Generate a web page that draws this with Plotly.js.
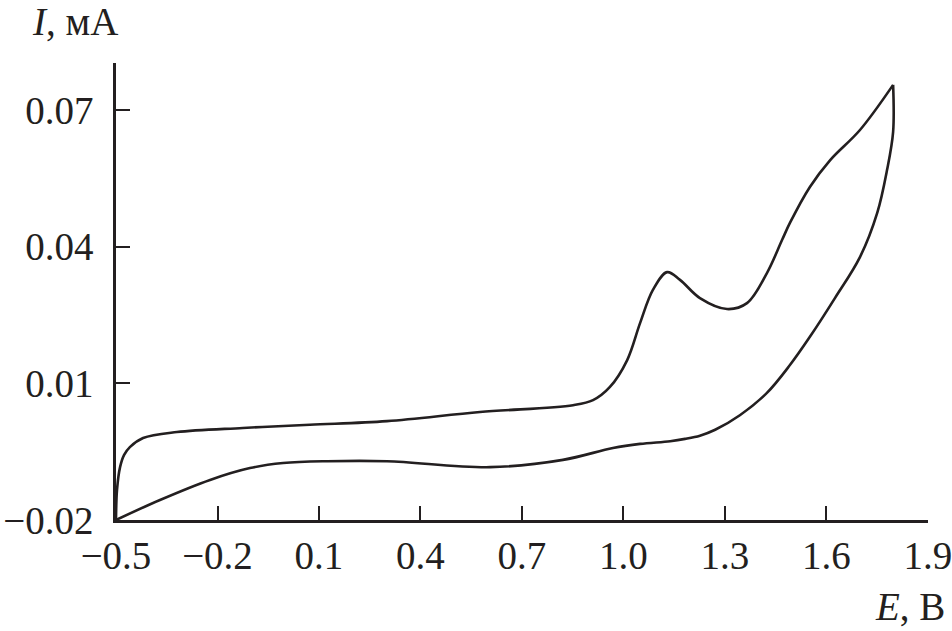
<!DOCTYPE html>
<html>
<head>
<meta charset="utf-8">
<script src="https://cdn.plot.ly/plotly-3.0.1.min.js"></script>
<style>html,body{margin:0;padding:0;background:#fff;}#chart{width:952px;height:631px;}</style>
</head>
<body>
<div id="chart"></div>
<script>
// Forward (anodic) scan
const forwardE = [-0.5, -0.497, -0.488, -0.476, -0.459, -0.420, -0.320, -0.125, 0.073, 0.301, 0.576, 0.851, 0.910, 0.960, 1.011, 1.049, 1.087, 1.129, 1.167, 1.226, 1.306, 1.365, 1.424, 1.469, 1.492, 1.551, 1.611, 1.699, 1.797];
const forwardI = [-0.02, -0.0134, -0.0084, -0.0057, -0.0040, -0.0020, -0.0007, 0.0002, 0.0009, 0.0017, 0.0037, 0.0052, 0.0063, 0.0092, 0.0151, 0.0232, 0.0305, 0.0344, 0.0327, 0.0287, 0.0263, 0.0276, 0.0342, 0.0415, 0.0452, 0.0531, 0.0590, 0.0656, 0.0755];
// Reverse (cathodic) scan
const reverseE = [1.797, 1.797, 1.779, 1.750, 1.699, 1.625, 1.551, 1.492, 1.424, 1.344, 1.271, 1.226, 1.182, 1.138, 1.049, 0.969, 0.821, 0.606, 0.301, 0.124, -0.006, -0.104, -0.222, -0.370, -0.5];
const reverseI = [0.0755, 0.0652, 0.0568, 0.0474, 0.0377, 0.0287, 0.0202, 0.0140, 0.0079, 0.0030, -0.0002, -0.0015, -0.0022, -0.0027, -0.0033, -0.0042, -0.0068, -0.0084, -0.0071, -0.0071, -0.0075, -0.0086, -0.0112, -0.0156, -0.02];
const xTickVals = [-0.5, -0.2, 0.1, 0.4, 0.7, 1.0, 1.3, 1.6, 1.9];
const xTickText = ["\u22120.5", "\u22120.2", "0.1", "0.4", "0.7", "1.0", "1.3", "1.6", "1.9"];
const yTickVals = [-0.02, 0.01, 0.04, 0.07];
const yTickText = ["\u22120.02", "0.01", "0.04", "0.07"];

const lineStyle = {color: '#231f20', width: 2.6, shape: 'spline', smoothing: 1};
const data = [
  {x: forwardE, y: forwardI, mode: 'lines', line: lineStyle, hoverinfo: 'skip', showlegend: false},
  {x: reverseE, y: reverseI, mode: 'lines', line: lineStyle, hoverinfo: 'skip', showlegend: false}
];
const font = {family: '"Liberation Serif", "DejaVu Serif", serif', size: 39, color: '#231f20'};
const layout = {
  width: 952, height: 631,
  margin: {l: 116, r: 24, t: 63, b: 111},
  paper_bgcolor: '#fff', plot_bgcolor: '#fff',
  font: font,
  xaxis: {
    range: [-0.5, 1.9001], tickvals: xTickVals, ticktext: xTickText,
    showline: true, linecolor: '#231f20', linewidth: 2.6,
    ticks: 'inside', ticklen: 14, tickwidth: 2, tickcolor: '#231f20',
    showgrid: false, zeroline: false, ticklabelstandoff: 0,
    ticklabeloverflow: 'allow',
    tickfont: font, fixedrange: true
  },
  yaxis: {
    range: [-0.02, 0.0803], tickvals: yTickVals, ticktext: yTickText,
    showline: true, linecolor: '#231f20', linewidth: 2.6,
    ticks: 'inside', ticklen: 14, tickwidth: 2, tickcolor: '#231f20',
    showgrid: false, zeroline: false, ticklabelstandoff: 12,
    ticklabeloverflow: 'allow',
    tickfont: font, fixedrange: true
  },
  annotations: [
    {text: '<i>I</i>, мА', xref: 'paper', yref: 'paper', x: -0.106, y: 1.09, xanchor: 'left', yanchor: 'middle', showarrow: false, font: font},
    {text: '<i>E</i>, В', xref: 'paper', yref: 'paper', x: 1.023, y: -0.19, xanchor: 'right', yanchor: 'middle', showarrow: false, font: font}
  ]
};
Plotly.newPlot('chart', data, layout, {displayModeBar: false, staticPlot: true});
</script>
</body>
</html>
